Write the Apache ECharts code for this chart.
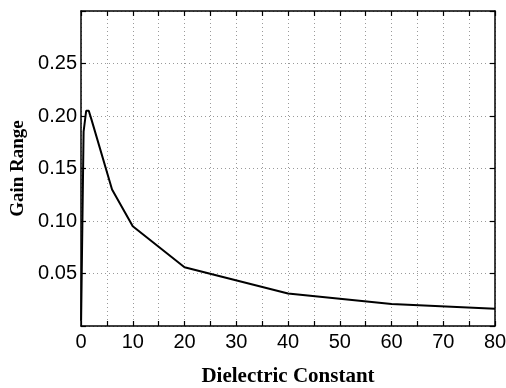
<!DOCTYPE html>
<html>
<head>
<meta charset="utf-8">
<script src="https://cdn.jsdelivr.net/npm/echarts@6/dist/echarts.min.js"></script>
<style>
  html, body { margin: 0; padding: 0; background: #fff; }
  #chart { width: 506px; height: 388px; }
</style>
</head>
<body>
<div id="chart"></div>
<script>
// dielectric constant vs gain range
const epsValues = [0.02, 0.5, 1, 1.5, 2, 6, 10, 20, 40, 60, 80]
const gainValues = [0.005, 0.185, 0.205, 0.205, 0.197, 0.130, 0.095, 0.056, 0.031, 0.021, 0.0165]
const xTicks = [0, 10, 20, 30, 40, 50, 60, 70, 80]
const yTicks = [0.05, 0.10, 0.15, 0.20, 0.25]

const chart = echarts.init(document.getElementById('chart'))

const gridLine = { show: true, lineStyle: { color: '#9a9a9a', type: [1, 3], width: 1 } }
const boxLine = { show: true, onZero: false, lineStyle: { color: '#000', width: 1.5 } }
const tickIn = { show: true, inside: true, length: 5, lineStyle: { color: '#000', width: 1.2 } }
const labelFont = { color: '#000', fontSize: 20, fontFamily: 'Liberation Sans, Arial, sans-serif' }

chart.setOption({
  animation: false,
  backgroundColor: '#fff',
  grid: { left: 81, right: 11, top: 11, bottom: 62, containLabel: false, outerBoundsMode: 'none' },
  xAxis: [
    {
      type: 'value',
      min: 0,
      max: 80,
      interval: 5,
      name: 'Dielectric Constant',
      nameLocation: 'middle',
      nameGap: 40,
      nameTextStyle: { color: '#000', fontSize: 21, fontWeight: 'bold', fontFamily: 'Liberation Serif, Times New Roman, serif' },
      axisLine: boxLine,
      axisTick: tickIn,
      splitLine: gridLine,
      axisLabel: Object.assign({
        margin: 6,
        formatter: v => (xTicks.includes(v) ? String(v) : '')
      }, labelFont)
    },
    {
      type: 'value',
      position: 'top',
      min: 0,
      max: 80,
      interval: 5,
      axisLine: boxLine,
      axisTick: tickIn,
      splitLine: { show: false },
      axisLabel: { show: false }
    }
  ],
  yAxis: [
    {
      type: 'value',
      min: 0,
      max: 0.3,
      interval: 0.05,
      name: 'Gain Range',
      nameLocation: 'middle',
      nameGap: 53,
      nameTextStyle: { color: '#000', fontSize: 19, fontWeight: 'bold', fontFamily: 'Liberation Serif, Times New Roman, serif' },
      axisLine: boxLine,
      axisTick: tickIn,
      splitLine: gridLine,
      axisLabel: Object.assign({
        margin: 4,
        formatter: v => {
          const hit = yTicks.find(t => Math.abs(t - v) < 1e-6)
          return hit !== undefined ? hit.toFixed(2) : ''
        }
      }, labelFont)
    },
    {
      type: 'value',
      position: 'right',
      min: 0,
      max: 0.3,
      interval: 0.05,
      axisLine: boxLine,
      axisTick: tickIn,
      splitLine: { show: false },
      axisLabel: { show: false }
    }
  ],
  series: [
    {
      type: 'line',
      data: epsValues.map((e, i) => [e, gainValues[i]]),
      showSymbol: false,
      smooth: false,
      lineStyle: { color: '#000', width: 2 }
    }
  ]
})
</script>
</body>
</html>
